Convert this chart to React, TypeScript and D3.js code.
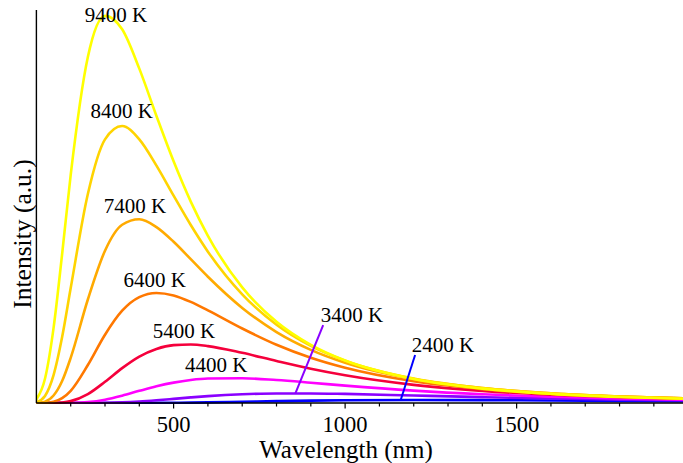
import React from "react";
import * as d3 from "d3";

// Sample wavelengths (nm) shared by every curve
const wavelengths = [100, 125, 150, 175, 200, 250, 300, 350, 400, 450, 500, 550, 600, 700, 800, 900, 1000, 1200, 1400, 1600, 1800, 2000];

// Spectral intensity (a.u.) per temperature
const i9400 = [0.88, 6.17, 19.07, 37.91, 58.04, 88.04, 98.5, 95.1, 85.08, 73.04, 61.49, 51.24, 42.54, 29.41, 20.68, 14.8, 10.8, 6.09, 3.66, 2.33, 1.54, 1.06];
const i8400 = [0.18, 1.8, 7.09, 16.77, 29.24, 53.17, 67.09, 70.47, 67.07, 60.4, 52.76, 45.28, 38.51, 27.65, 19.93, 14.55, 10.79, 6.22, 3.8, 2.44, 1.63, 1.13];
const i7400 = [0.02, 0.35, 1.9, 5.59, 11.5, 26.34, 38.74, 45.35, 46.75, 44.77, 41.03, 36.6, 32.13, 24.2, 18.06, 13.53, 10.24, 6.08, 3.79, 2.47, 1.67, 1.17];
const i6400 = [0, 0.04, 0.31, 1.22, 3.11, 9.66, 17.38, 23.48, 26.94, 28.0, 27.37, 25.72, 23.56, 18.95, 14.82, 11.51, 8.96, 5.53, 3.54, 2.35, 1.61, 1.14];
const i5400 = [0, 0, 0.02, 0.14, 0.48, 2.27, 5.4, 8.88, 11.81, 13.76, 14.72, 14.88, 14.48, 12.76, 10.69, 8.73, 7.06, 4.62, 3.08, 2.1, 1.47, 1.06];
const i4400 = [0, 0, 0, 0, 0.03, 0.24, 0.85, 1.87, 3.09, 4.25, 5.19, 5.85, 6.22, 6.3, 5.84, 5.16, 4.43, 3.16, 2.23, 1.59, 1.15, 0.85];
const i3400 = [0, 0, 0, 0, 0, 0.01, 0.05, 0.17, 0.39, 0.7, 1.06, 1.42, 1.75, 2.22, 2.43, 2.43, 2.31, 1.91, 1.49, 1.14, 0.87, 0.67];
const i2400 = [0, 0, 0, 0, 0, 0, 0, 0, 0.01, 0.02, 0.06, 0.1, 0.16, 0.32, 0.47, 0.6, 0.69, 0.76, 0.72, 0.64, 0.55, 0.46];

const temperatures = ["2400 K", "3400 K", "4400 K", "5400 K", "6400 K", "7400 K", "8400 K", "9400 K"];
const seriesValues = [i2400, i3400, i4400, i5400, i6400, i7400, i8400, i9400];
const colors = ["#0000ff", "#8a00ff", "#ff00ff", "#f5003c", "#ff7800", "#ffaa00", "#ffd400", "#ffff00"];

// Label anchors (wavelength, intensity); leader lines start on the curve at leaderFrom
const labelWavelength = [1285, 1020, 624, 530, 445, 387, 349, 332];
const labelIntensity = [13.05, 20.7, 7.97, 16.5, 29.6, 48.3, 72.5, 96.9];
const leaderFrom: (number | null)[] = [1162, 855, null, null, null, null, null, null];
const leaderTo: ([number, number] | null)[] = [[1204, 12.2], [936, 19.8], null, null, null, null, null, null];

const majorTicks = [500, 1000, 1500];
const minorTicks = d3.range(200, 2000, 100);

const W = 683;
const H = 463;
const FONT = "'Liberation Serif', 'Times New Roman', serif";

export default function App() {
  const x = d3.scaleLinear().domain([100, 1985]).range([36.4, 683]);
  const y = d3.scaleLinear().domain([0, 100]).range([403, 10]);

  const line = d3
    .line<number>()
    .x((_, i) => x(wavelengths[i]))
    .y((v) => y(v))
    .curve(d3.curveMonotoneX);

  const valueAt = (vals: number[], wl: number) => {
    const interp = d3.scaleLinear().domain(wavelengths).range(vals);
    return interp(wl);
  };

  return (
    <svg
      width={W}
      height={H}
      style={{ position: "absolute", left: 0, top: 0, background: "#fff" }}
      fontFamily={FONT}
    >
      <defs>
        <clipPath id="plot">
          <rect x={36} y={0} width={W - 36} height={404} />
        </clipPath>
      </defs>

      {/* curves */}
      <g clipPath="url(#plot)" fill="none" strokeWidth={2.6} strokeLinejoin="round">
        {seriesValues.map((vals, k) => (
          <path key={temperatures[k]} d={line(vals) || ""} stroke={colors[k]} />
        ))}
      </g>

      {/* leader lines */}
      {seriesValues.map((vals, k) => {
        const from = leaderFrom[k];
        const to = leaderTo[k];
        if (from == null || to == null) return null;
        return (
          <line
            key={"leader" + k}
            x1={x(from)}
            y1={y(valueAt(vals, from))}
            x2={x(to[0])}
            y2={y(to[1])}
            stroke={colors[k]}
            strokeWidth={2}
          />
        );
      })}

      {/* axes */}
      <line x1={x(100)} y1={y(0)} x2={W} y2={y(0)} stroke="#000" strokeWidth={1.4} />
      <line x1={x(100)} y1={y(100)} x2={x(100)} y2={y(0)} stroke="#000" strokeWidth={1.4} />
      {minorTicks.map((t) => (
        <line
          key={"t" + t}
          x1={x(t)}
          x2={x(t)}
          y1={y(0)}
          y2={y(0) + (majorTicks.includes(t) ? 5.5 : 3.5)}
          stroke="#000"
          strokeWidth={1.2}
        />
      ))}
      {majorTicks.map((t) => (
        <text key={"l" + t} x={x(t)} y={432} fontSize={22.5} textAnchor="middle" fill="#000">
          {t}
        </text>
      ))}

      <text x={346} y={457.5} fontSize={25} textAnchor="middle" fill="#000">
        Wavelength (nm)
      </text>
      <text
        transform={`translate(31,234) rotate(-90)`}
        fontSize={25.5}
        textAnchor="middle"
        fill="#000"
      >
        Intensity (a.u.)
      </text>

      {/* temperature labels */}
      {temperatures.map((t, k) => (
        <text
          key={"lab" + t}
          x={x(labelWavelength[k])}
          y={y(labelIntensity[k])}
          fontSize={21}
          textAnchor="middle"
          fill="#000"
        >
          {t}
        </text>
      ))}
    </svg>
  );
}
